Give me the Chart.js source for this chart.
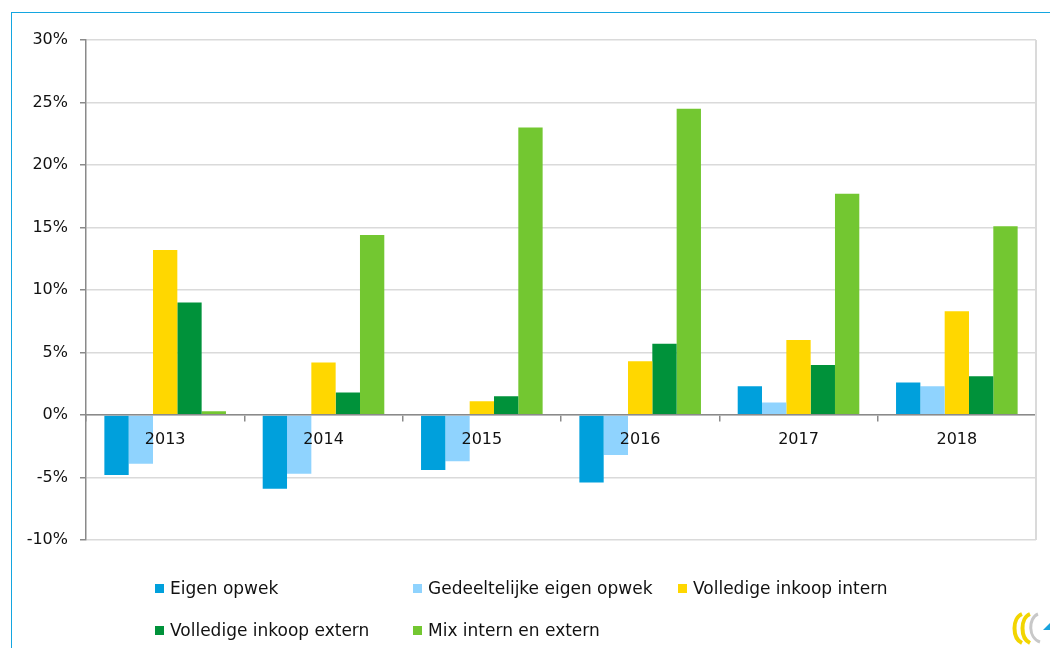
<!DOCTYPE html>
<html>
<head>
<meta charset="utf-8">
<script src="https://cdn.jsdelivr.net/npm/chart.js@4/dist/chart.umd.min.js"></script>
<style>
  html, body { margin: 0; padding: 0; background: #fff; }
  #wrap { position: relative; width: 1050px; height: 648px; overflow: hidden; }
  #frame { position: absolute; left: 11px; top: 12px; right: -5px; bottom: -5px;
           border-top: 1.5px solid #14a6e0; border-left: 1.5px solid #14a6e0; }
  #chartBox { position: absolute; left: 0; top: 0; width: 1050px; height: 648px; }
  #legend { position: absolute; left: 155px; top: 577px; display: grid;
            grid-template-columns: 258px 265px 250px; row-gap: 20px;
            font-family: "DejaVu Sans", sans-serif; font-size: 17px; color: #111; }
  #legend .item { display: flex; align-items: center; height: 22px; white-space: nowrap; }
  #legend .sw { width: 9px; height: 9px; margin-right: 6px; flex: none; }
  #logo { position: absolute; left: 1010px; top: 610px; }
</style>
</head>
<body>
<div id="wrap">
  <div id="frame"></div>
  <div id="chartBox"><canvas id="c"></canvas></div>
  <div id="legend"></div>
  <svg id="logo" width="40" height="36" viewBox="0 0 40 36">
    <path d="M12 4 C2 8 2 28 12 33" fill="none" stroke="#f2d500" stroke-width="4"/>
    <path d="M20 4 C10 8 10 28 20 33" fill="none" stroke="#f2d500" stroke-width="4"/>
    <path d="M28 4 C18 8 18 28 30 32" fill="none" stroke="#c8c8c8" stroke-width="3"/>
    <path d="M33 20 L40 13 L40 20 Z" fill="#19a3dd"/>
  </svg>
</div>
<script>
  // chart data (values in %)
  const years = ["2013", "2014", "2015", "2016", "2017", "2018"];
  const seriesNames = [
    "Eigen opwek",
    "Gedeeltelijke eigen opwek",
    "Volledige inkoop intern",
    "Volledige inkoop extern",
    "Mix intern en extern"
  ];
  const seriesColors = ["#00a0dc", "#8fd3fe", "#ffd700", "#00923a", "#73c731"];
  const eigenOpwek       = [-4.8, -5.9, -4.4, -5.4, 2.3, 2.6];
  const gedeeltelijk     = [-3.9, -4.7, -3.7, -3.2, 1.0, 2.3];
  const inkoopIntern     = [13.2, 4.2, 1.1, 4.3, 6.0, 8.3];
  const inkoopExtern     = [9.0, 1.8, 1.5, 5.7, 4.0, 3.1];
  const mixInternExtern  = [0.3, 14.4, 23.0, 24.5, 17.7, 15.1];
  const yMin = -10, yMax = 30, yStep = 5;

  const seriesValues = [eigenOpwek, gedeeltelijk, inkoopIntern, inkoopExtern, mixInternExtern];

  // legend as a 3-column grid, like the original
  const lg = document.getElementById("legend");
  seriesNames.forEach((name, i) => {
    const it = document.createElement("div");
    it.className = "item";
    it.innerHTML = `<span class="sw" style="background:${seriesColors[i]}"></span><span>${name}</span>`;
    lg.appendChild(it);
  });

  const axisGrey = "#8a8a8a";
  const gridGrey = "#dadada";

  // right edge of the plot area
  const plotFrame = {
    id: "plotFrame",
    afterDraw(chart) {
      const { ctx, chartArea: a } = chart;
      ctx.save();
      ctx.strokeStyle = gridGrey;
      ctx.lineWidth = 2;
      ctx.beginPath();
      ctx.moveTo(a.right, a.top);
      ctx.lineTo(a.right, a.bottom);
      ctx.stroke();
      ctx.restore();
    }
  };

  new Chart(document.getElementById("c").getContext("2d"), {
    type: "bar",
    data: {
      labels: years,
      datasets: seriesNames.map((name, i) => ({
        label: name,
        data: seriesValues[i],
        backgroundColor: seriesColors[i],
        borderWidth: 0,
        categoryPercentage: 0.768,
        barPercentage: 1
      }))
    },
    options: {
      responsive: true,
      maintainAspectRatio: false,
      animation: false,
      layout: { padding: { left: 0, top: 40, right: 14, bottom: 108 } },
      plugins: {
        legend: { display: false },
        tooltip: { enabled: false }
      },
      scales: {
        x: {
          position: { y: 0 },
          grid: { display: true, drawOnChartArea: false, drawTicks: true, tickLength: 6,
                  color: axisGrey, lineWidth: 1.5, offset: true },
          border: { display: true, color: axisGrey, width: 1.5, z: 1 },
          ticks: { color: "#111", padding: 9, maxRotation: 0, z: 2,
                   font: { family: "DejaVu Sans", size: 16 } }
        },
        y: {
          min: yMin, max: yMax,
          afterFit: s => { s.width = 86; },
          grid: { color: gridGrey, lineWidth: 1.5, tickColor: axisGrey, tickLength: 6 },
          border: { display: true, color: axisGrey, width: 1.5 },
          ticks: { stepSize: yStep, padding: 12, color: "#111",
                   font: { family: "DejaVu Sans", size: 16 },
                   callback: v => v + "%" }
        }
      }
    },
    plugins: [plotFrame]
  });
</script>
</body>
</html>
